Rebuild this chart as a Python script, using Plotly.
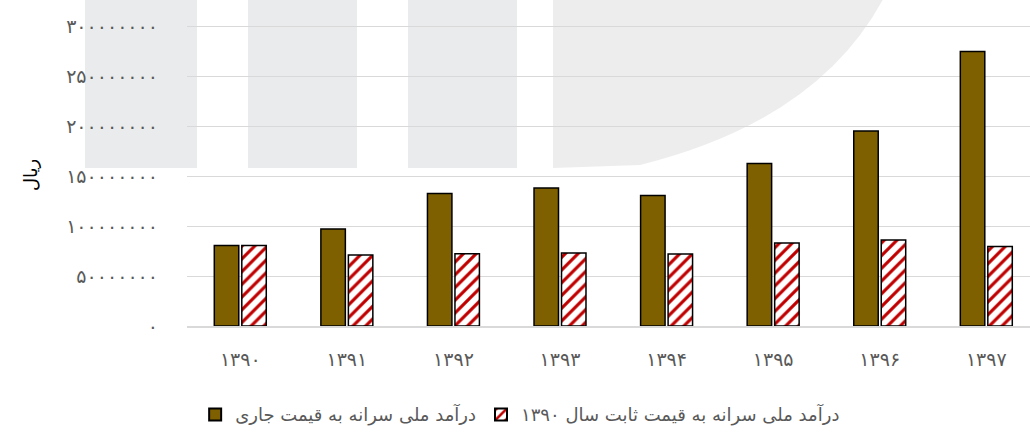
import plotly.graph_objects as go

years = ["۱۳۹۰", "۱۳۹۱", "۱۳۹۲", "۱۳۹۳", "۱۳۹۴", "۱۳۹۵", "۱۳۹۶", "۱۳۹۷"]
current_prices = [80.5e6, 97.0e6, 132.5e6, 138.0e6, 130.5e6, 162.5e6, 195.0e6, 274.5e6]
constant_prices = [80.5e6, 71.0e6, 72.3e6, 73.0e6, 72.0e6, 83.0e6, 86.0e6, 79.5e6]
name_current = "درآمد ملی سرانه به قیمت جاری"
name_constant = "درآمد ملی سرانه به قیمت ثابت سال ۱۳۹۰"
y_tickvals = [0, 50e6, 100e6, 150e6, 200e6, 250e6, 300e6]
y_ticktext = ["۰", "۵۰۰۰۰۰۰۰", "۱۰۰۰۰۰۰۰۰", "۱۵۰۰۰۰۰۰۰", "۲۰۰۰۰۰۰۰۰",
              "۲۵۰۰۰۰۰۰۰", "۳۰۰۰۰۰۰۰۰"]
y_title = "ریال"

FONT = "DejaVu Sans"

fig = go.Figure()
fig.add_trace(go.Bar(
    x=list(range(len(years))), y=current_prices, name=name_current,
    marker=dict(color="#7F6000", line=dict(color="#000000", width=1.5)),
))
fig.add_trace(go.Bar(
    x=list(range(len(years))), y=constant_prices, name=name_constant,
    marker=dict(color="#FFFFFF", line=dict(color="#000000", width=1.5),
                pattern=dict(shape="/", fgcolor="#C00000", bgcolor="#FFFFFF",
                             size=9, solidity=0.35, fillmode="replace")),
))

# watermark-like light gray background blocks (pixel -> paper coords)
L, R, T, B = 187, 0, 20.5, 105.5
W, H = 1030, 432
pw, ph = W - L - R, H - T - B
def px(x):
    return (x - L) / pw
def py(y):
    return (H - B - y) / ph

WM = "rgba(20,30,40,0.09)"
shapes = []
for x0, x1 in [(85, 197), (248, 357), (408, 517)]:
    shapes.append(dict(type="rect", xref="paper", yref="paper",
                       x0=px(x0), x1=px(x1), y0=py(168), y1=py(-5),
                       fillcolor=WM, line=dict(width=0), layer="below"))
path = (f"M {px(553)},{py(-5)} L {px(885)},{py(-5)} "
        f"Q {px(820)},{py(120)} {px(640)},{py(165)} "
        f"L {px(553)},{py(168)} Z")
shapes.append(dict(type="path", xref="paper", yref="paper", path=path,
                   fillcolor="rgba(20,30,30,0.08)", line=dict(width=0), layer="below"))

fig.update_layout(
    width=W, height=H,
    margin=dict(l=L, r=R, t=T, b=B, pad=0, autoexpand=False),
    paper_bgcolor="#FFFFFF", plot_bgcolor="rgba(0,0,0,0)",
    font=dict(family=FONT, size=14, color="#595959"),
    barmode="group", bargap=0.484, bargroupgap=0.11,
    showlegend=True,
    legend=dict(orientation="h", xref="container", yref="container",
                x=0.505, y=0.04, xanchor="center", yanchor="middle",
                font=dict(family=FONT, size=18, color="#595959"),
                traceorder="normal", itemsizing="constant"),
    shapes=shapes,
    annotations=[dict(text=y_title, xref="paper", yref="paper",
                      x=px(31), y=py(175), xanchor="center", yanchor="middle",
                      textangle=-90, showarrow=False,
                      font=dict(family=FONT, size=18, color="#000000"))],
)
fig.update_xaxes(
    range=[-0.5, 7.41], tickmode="array", tickvals=list(range(len(years))),
    ticktext=years, showgrid=False, showline=True, linecolor="#D9D9D9",
    linewidth=1.5, ticks="", tickfont=dict(family=FONT, size=19, color="#595959"),
    ticklabelstandoff=15, fixedrange=True,
)
fig.update_yaxes(
    range=[0, 305e6], tickmode="array", tickvals=y_tickvals, ticktext=y_ticktext,
    showgrid=True, gridcolor="#D9D9D9", gridwidth=1.2, zeroline=False,
    showline=False, ticks="", tickfont=dict(family=FONT, size=19, color="#595959"),
    ticklabelstandoff=28, fixedrange=True,
)

fig.write_html("out.html", config={"displayModeBar": False},
               post_script="document.body.style.margin='0';")
